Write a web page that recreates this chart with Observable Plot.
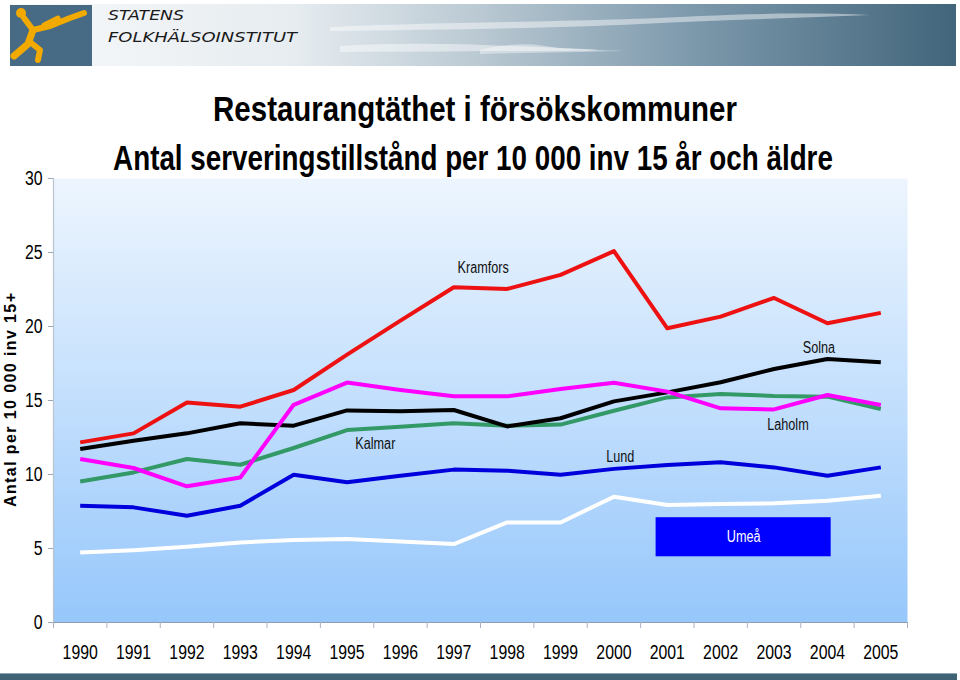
<!DOCTYPE html>
<html>
<head>
<meta charset="utf-8">
<script src="https://cdn.jsdelivr.net/npm/d3@7"></script>
<script src="https://cdn.jsdelivr.net/npm/@observablehq/plot@0.6"></script>
<style>
  html, body { margin: 0; padding: 0; background: #ffffff; }
  #page { position: relative; width: 960px; height: 680px; overflow: hidden; background: #ffffff; }
  #chart { position: absolute; left: 0; top: 0; }
</style>
</head>
<body>
<div id="page">
  <div id="chart"></div>
</div>
<script>
// ---------- data ----------
const years = [1990, 1991, 1992, 1993, 1994, 1995, 1996, 1997, 1998, 1999, 2000, 2001, 2002, 2003, 2004, 2005];

const kramfors = [12.17, 12.78, 14.87, 14.58, 15.71, 18.1, 20.4, 22.65, 22.54, 23.49, 25.09, 19.88, 20.67, 21.93, 20.22, 20.92];
const solna    = [11.72, 12.28, 12.78, 13.46, 13.3, 14.33, 14.27, 14.36, 13.25, 13.8, 14.94, 15.55, 16.23, 17.13, 17.81, 17.58];
const laholm   = [11.05, 10.44, 9.2, 9.8, 14.71, 16.21, 15.71, 15.28, 15.28, 15.78, 16.2, 15.6, 14.47, 14.4, 15.37, 14.7];
const kalmar   = [9.53, 10.14, 11.05, 10.66, 11.79, 13.0, 13.23, 13.46, 13.3, 13.37, 14.31, 15.21, 15.44, 15.31, 15.26, 14.43];
const lund     = [7.89, 7.78, 7.21, 7.89, 9.99, 9.47, 9.92, 10.33, 10.26, 9.99, 10.38, 10.64, 10.82, 10.48, 9.92, 10.48];
const umea     = [4.73, 4.89, 5.12, 5.41, 5.57, 5.64, 5.48, 5.3, 6.76, 6.76, 8.5, 7.94, 8.0, 8.05, 8.23, 8.57];

// drawing order (bottom to top)
const seriesNames  = ["Umeå", "Lund", "Kalmar", "Solna", "Laholm", "Kramfors"];
const seriesValues = [umea, lund, kalmar, solna, laholm, kramfors];
const seriesColors = ["#ffffff", "#0000dd", "#339966", "#000000", "#ff00ff", "#ee1111"];

const yTicks = [0, 5, 10, 15, 20, 25, 30];

// texts
const titleText = "Restaurangtäthet i försökskommuner";
const subtitleText = "Antal serveringstillstånd per 10 000 inv 15 år och äldre";
const yLabelText = "Antal per 10 000 inv 15+";
const orgLines = ["STATENS", "FOLKHÄLSOINSTITUT"];

// in-chart series labels (data coordinates)
const labelNames  = ["Kramfors", "Solna", "Kalmar", "Lund", "Laholm"];
const labelYears  = [1997.55, 2003.84, 1995.53, 2000.12, 2003.26];
const labelValues = [23.98, 18.57, 12.08, 11.2, 13.37];

// Umeå legend box (data coordinates)
const boxName = "Umeå";
const boxYears = [2000.79, 2004.07];
const boxValues = [4.44, 7.08];

// ---------- build ----------
const rows = [];
seriesNames.forEach((name, i) => {
  seriesValues[i].forEach((v, j) => rows.push({name, year: years[j], value: v}));
});
const labels = labelNames.map((n, i) => ({name: n, year: labelYears[i], value: labelValues[i]}));
const boxes = [{name: boxName, x1: boxYears[0], x2: boxYears[1], y1: boxValues[0], y2: boxValues[1]}];
const boundaries = [years[0] - 0.5, ...years.map(y => y + 0.5)];

const font = "'Liberation Sans',Arial,sans-serif";

const defsMark = () => {
  const ns = "http://www.w3.org/2000/svg";
  const g = document.createElementNS(ns, "g");
  g.innerHTML = `<defs><linearGradient id="plotbg" x1="0" y1="0" x2="0" y2="1">
    <stop offset="0" stop-color="#edf5fe"/>
    <stop offset="0.5" stop-color="#c3dffd"/>
    <stop offset="1" stop-color="#96c7fb"/>
  </linearGradient></defs>`;
  return g;
};

const chart = Plot.plot({
  width: 960,
  height: 680,
  marginTop: 178,
  marginBottom: 58,
  marginLeft: 53,
  marginRight: 53,
  x: {domain: [1989.5, 2005.5]},
  y: {domain: [0, 30]},
  color: {domain: seriesNames, range: seriesColors},
  style: {fontFamily: font, fontSize: "20px", color: "#000", background: "transparent", overflow: "visible"},
  marks: [
    defsMark,
    Plot.frame({fill: "url(#plotbg)", stroke: null}),
    Plot.ruleX([1989.5], {stroke: "#b9c4cf", strokeWidth: 1.2}),
    Plot.ruleY([0], {stroke: "#8d9db0", strokeWidth: 1.2}),
    Plot.axisY({ticks: yTicks, tickSize: 5, tickPadding: 6, label: null, stroke: "#9aa8b8", fontSize: 20}),
    Plot.axisX({ticks: boundaries, tickSize: 6, tickFormat: () => "", label: null, stroke: "#a8b4c2"}),
    Plot.axisX({ticks: years, tickSize: 0, tickPadding: 22, tickFormat: d => String(d), label: null, fontSize: 20}),
    Plot.line(rows, {x: "year", y: "value", z: "name", stroke: "name", strokeWidth: 4, strokeLinejoin: "round", strokeLinecap: "butt"}),
    Plot.text(labels, {x: "year", y: "value", text: "name", fontSize: 16, fill: "#111"}),
    Plot.rect(boxes, {x1: "x1", x2: "x2", y1: "y1", y2: "y2", fill: "#0000ff"}),
    Plot.text(boxes, {x: d => (d.x1 + d.x2) / 2, y: d => (d.y1 + d.y2) / 2, text: "name", fill: "#ffffff", fontSize: 16})
  ]
});
document.getElementById("chart").appendChild(chart);

// condense the chart's texts horizontally (reference uses a narrow face)
chart.querySelectorAll("text").forEach(t => {
  if (!t.textContent) return;
  const w = t.getComputedTextLength();
  if (w > 0) {
    t.setAttribute("textLength", (w * 0.79).toFixed(1));
    t.setAttribute("lengthAdjust", "spacingAndGlyphs");
  }
});

// header banner, titles, axis label and footer bar, drawn into the same SVG
const deco = document.createElementNS("http://www.w3.org/2000/svg", "g");
deco.setAttribute("text-anchor", "start");
deco.innerHTML = `
  <defs>
    <linearGradient id="banner" x1="0" y1="0" x2="1" y2="0">
      <stop offset="0" stop-color="#f8f9fb"/>
      <stop offset="0.3" stop-color="#e6ecf0"/>
      <stop offset="0.5" stop-color="#b9c8d2"/>
      <stop offset="0.72" stop-color="#7d99ac"/>
      <stop offset="1" stop-color="#42657b"/>
    </linearGradient>
  </defs>
  <rect x="10" y="4" width="946" height="62" fill="url(#banner)"/>
  <path d="M330,27 C420,22 600,22 700,16 C760,13 820,13 870,15 C800,18 720,20 640,24 C560,28 440,30 330,31 Z" fill="#ffffff" opacity="0.45"/>
  <path d="M340,46 C400,42 470,44 560,48 C620,50 600,51 560,51 C480,51 420,52 340,52 Z" fill="#ffffff" opacity="0.45"/>
  <path d="M480,50 C500,44 530,43 545,46 C560,49 600,50 624,51 C580,52 520,53 480,54 Z" fill="#ffffff" opacity="0.4"/>
  <rect x="10" y="5" width="82" height="61" fill="#476b84"/>
  <g fill="none" stroke="#f2a900" stroke-linecap="round" stroke-linejoin="round">
    <circle cx="21" cy="13" r="5" fill="#f2a900" stroke="none"/>
    <polyline points="24,18 33,30 50,26 70,18 84,13" stroke-width="6"/>
    <polyline points="33,30 28,44 14,56" stroke-width="7"/>
    <polyline points="30,42 40,50 38,60" stroke-width="6"/>
    <polyline points="44,25 58,18" stroke-width="5"/>
  </g>
  <text x="108" y="20" text-anchor="start" font-family="'DejaVu Sans', sans-serif" font-style="italic" font-size="14" fill="#1a1a1a" textLength="76" lengthAdjust="spacingAndGlyphs">${orgLines[0]}</text>
  <text x="108" y="42" text-anchor="start" font-family="'DejaVu Sans', sans-serif" font-style="italic" font-size="14" fill="#1a1a1a" textLength="189" lengthAdjust="spacingAndGlyphs">${orgLines[1]}</text>
  <text id="t1" text-anchor="middle" font-family="'Liberation Sans',sans-serif" font-weight="bold" font-size="35" fill="#000">${titleText}</text>
  <text id="t2" text-anchor="middle" font-family="'Liberation Sans',sans-serif" font-weight="bold" font-size="35" fill="#000">${subtitleText}</text>
  <text transform="translate(16,400) rotate(-90)" text-anchor="middle" font-family="'Liberation Sans',sans-serif" font-weight="bold" font-size="16" fill="#000" textLength="214" lengthAdjust="spacing">${yLabelText}</text>
  <rect x="0" y="674" width="957" height="6" fill="#3f6275"/>
  <rect x="0" y="673" width="957" height="1" fill="#8fa6b4"/>
`;
chart.appendChild(deco);

// squeeze the two title lines horizontally to the reference widths
[["#t1", 475, 121, 524], ["#t2", 473, 170, 720]].forEach(([sel, cx, by, target]) => {
  const t = deco.querySelector(sel);
  const w = t.getComputedTextLength();
  const sx = w > 0 ? target / w : 0.8;
  t.setAttribute("transform", `translate(${cx},${by}) scale(${sx.toFixed(4)},1)`);
});
</script>
</body>
</html>
